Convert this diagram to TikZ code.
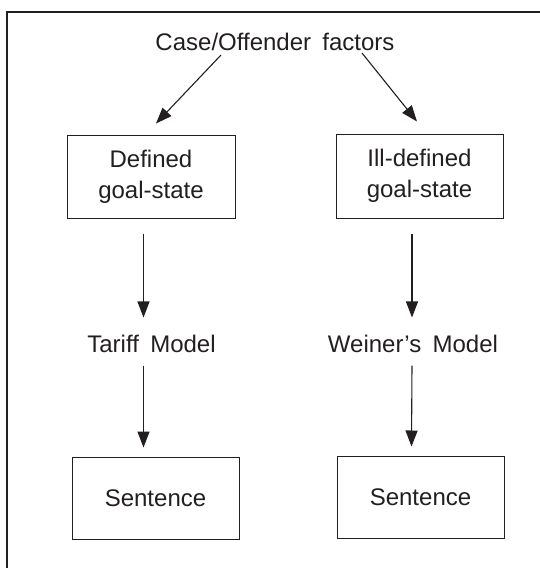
\documentclass[tikz,border=0pt]{standalone}
\usepackage{fontspec}
\setmainfont{Liberation Sans}[WordSpace=1.7]
\usetikzlibrary{arrows.meta}
\definecolor{ink}{HTML}{231F20}
\begin{document}
\begin{tikzpicture}[x=1pt,y=-1pt,
  every node/.style={font=\fontsize{24}{31}\selectfont, text=ink},
  lbl/.style={inner sep=0pt},
  box/.style={draw=ink, line width=1pt, minimum width=#1, align=center, inner sep=0pt},
  arr/.style={draw=ink, line width=1.1pt, -{Triangle[length=16pt,width=12pt]}}]
\useasboundingbox (0,0) rectangle (540,568);
\clip (0,0) rectangle (540,568);
\draw[ink, line width=2pt] (7,12) rectangle (570,600);

\node[lbl] (title) at (275,42) {Case/Offender factors};

\node[box=168pt, minimum height=83pt] (d1) at (151,176.5) {Defined\\goal-state};
\node[box=167pt, minimum height=84pt] (d2) at (419.5,176) {Ill-defined\\goal-state};

\node[lbl] (tm) at (151.5,344) {Tariff Model};
\node[lbl] (wm) at (413,344) {Weiner’s Model};

\node[box=167pt, minimum height=82pt] (s1) at (155.5,498) {Sentence};
\node[box=167pt, minimum height=82pt] (s2) at (420.5,497) {Sentence};

\draw[arr] ([xshift=-54pt,yshift=-4pt]title.south) -- ([xshift=5pt,yshift=11pt]d1.north);
\draw[arr] ([xshift=87pt,yshift=-2pt]title.south) -- ([xshift=-2.5pt,yshift=12pt]d2.north);

\draw[arr] ([xshift=-7.5pt,yshift=-15pt]d1.south) -- ([xshift=-8pt,yshift=17.5pt]tm.north);
\draw[arr] ([xshift=-7.5pt,yshift=-15pt]d2.south) -- ([xshift=-1pt,yshift=17.5pt]wm.north);

\draw[arr] ([xshift=-8pt,yshift=-12.5pt]tm.south) -- ([xshift=-12pt,yshift=9pt]s1.north);
\draw[arr] ([xshift=-1pt,yshift=-12.5pt]wm.south) -- ([xshift=-9pt,yshift=9pt]s2.north);
\end{tikzpicture}
\end{document}
